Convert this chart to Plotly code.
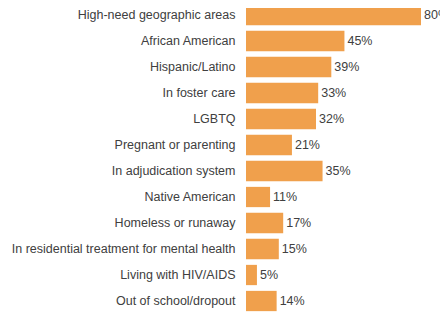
import plotly.graph_objects as go

categories = [
    "High-need geographic areas",
    "African American",
    "Hispanic/Latino",
    "In foster care",
    "LGBTQ",
    "Pregnant or parenting",
    "In adjudication system",
    "Native American",
    "Homeless or runaway",
    "In residential treatment for mental health",
    "Living with HIV/AIDS",
    "Out of school/dropout",
]
values = [80, 45, 39, 33, 32, 21, 35, 11, 17, 15, 5, 14]
labels = [f"{v}%" for v in values]

# page body has an 8px margin, so the figure is drawn at (8, 8)
W, H = 440, 304
left = 238
plot_w = W - left
xmax = 80 * plot_w / 175.0

fig = go.Figure(go.Bar(
    x=values, y=categories, orientation="h",
    marker=dict(color="#F0A04C", line=dict(width=0)),
    text=labels, textposition="outside", cliponaxis=False,
    textfont=dict(family="Liberation Sans, Arial", size=12.5, color="#404040"),
    width=0.78,
))
fig.update_layout(
    width=W, height=H,
    margin=dict(l=left, r=0, t=0, b=0, autoexpand=False),
    paper_bgcolor="white", plot_bgcolor="white",
    showlegend=False,
    font=dict(family="Liberation Sans, Arial", size=12.5, color="#404040"),
    xaxis=dict(range=[0, xmax], visible=False, fixedrange=True),
    yaxis=dict(range=[11.423, -0.269], showgrid=False, zeroline=False,
               showline=False, ticks="outside", ticklen=7, tickcolor="rgba(0,0,0,0)",
               automargin=False,
               tickfont=dict(size=12.5, color="#404040")),
)
fig.write_html("out.html")
